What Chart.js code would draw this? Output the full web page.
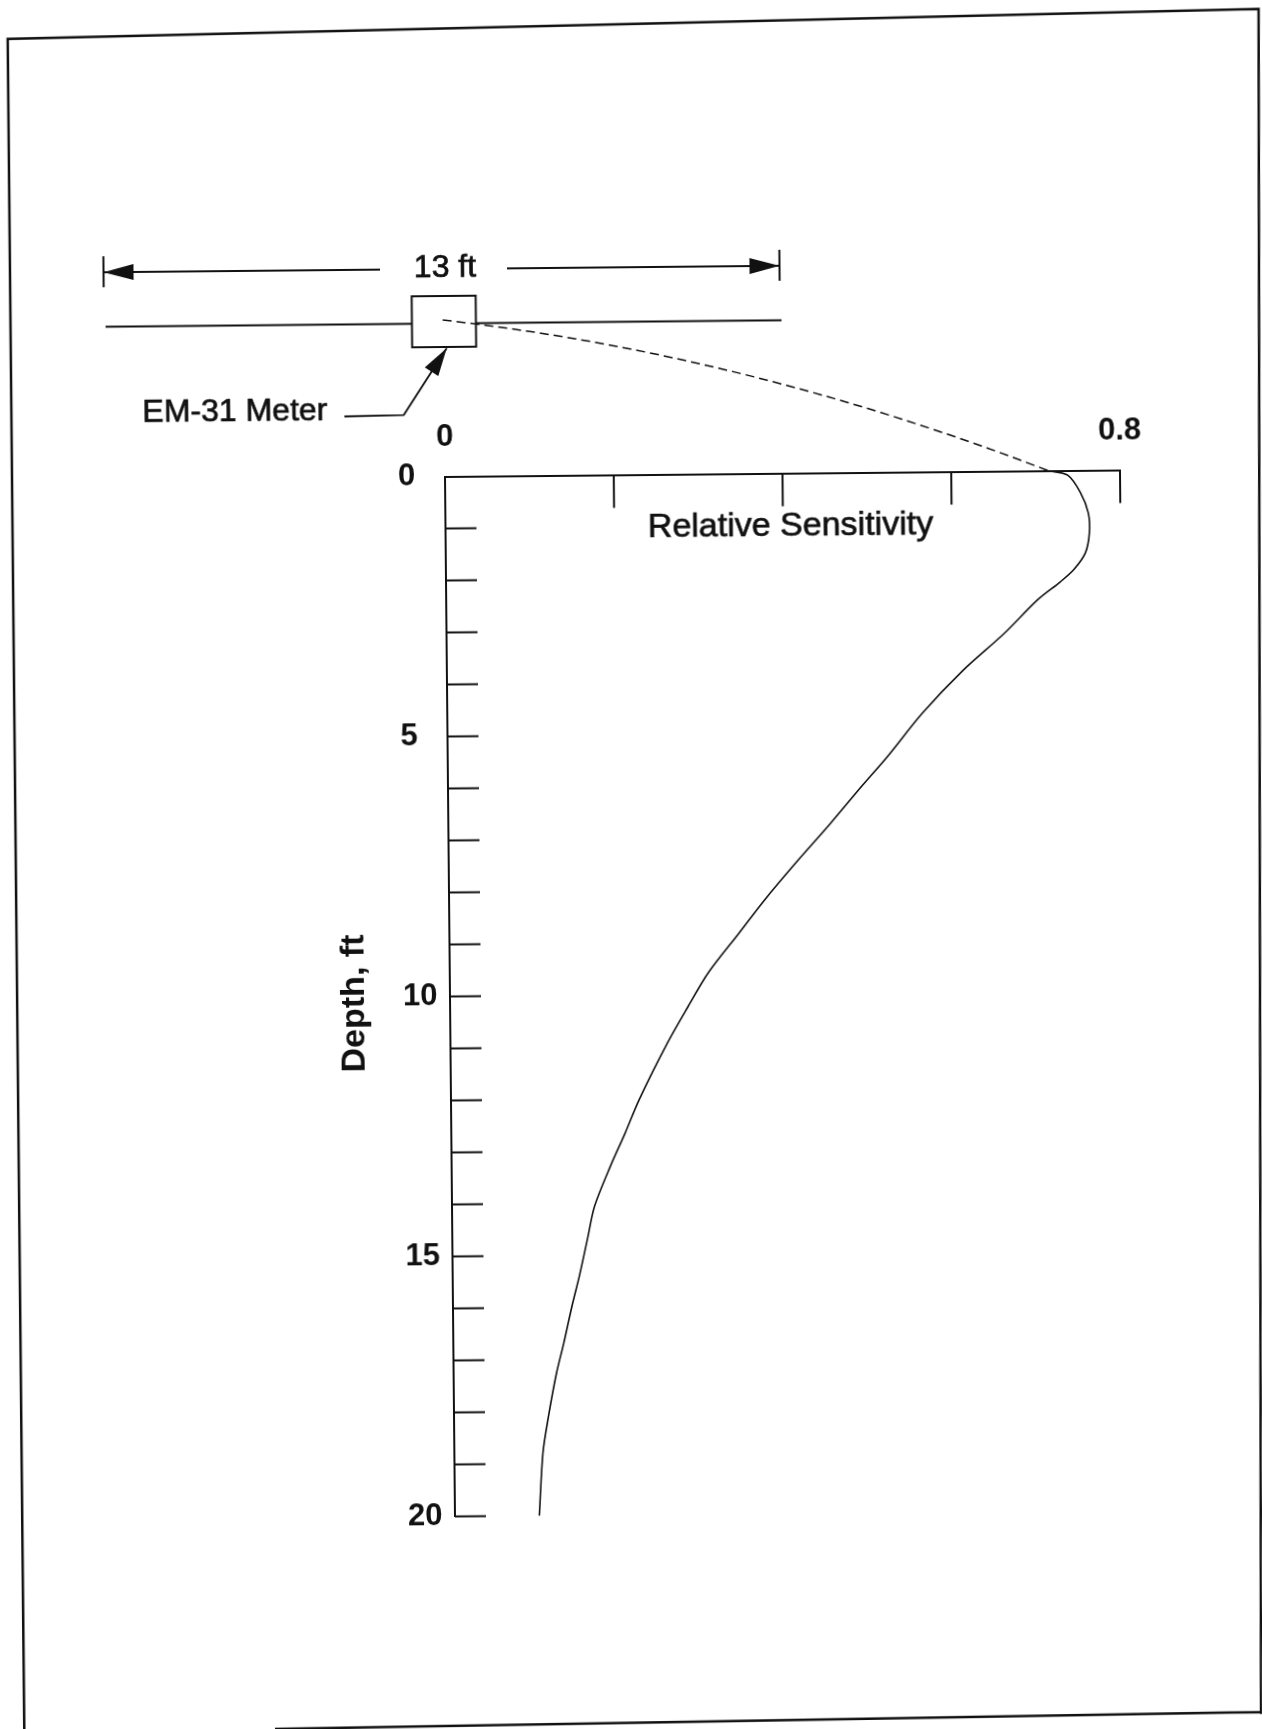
<!DOCTYPE html>
<html>
<head>
<meta charset="utf-8">
<script src="https://cdn.jsdelivr.net/npm/chart.js@4.4.1/dist/chart.umd.min.js"></script>
<style>
  html, body { margin: 0; padding: 0; background: #fff; }
  #wrap { position: relative; width: 1262px; height: 1729px; overflow: hidden; }
  /* the scanned page is slightly tilted */
  #grafica { display: block; transform: rotate(-0.55deg); transform-origin: 445px 476.5px; }
</style>
</head>
<body>
<div id="wrap"><canvas id="grafica" width="1300" height="1760"></canvas></div>
<script>
// Depth below the meter (ft)
const depthFt = [0, 0.09, 0.43, 0.82, 1.21, 1.59, 1.91, 2.14, 2.48, 3.12, 3.82, 4.64, 5.47, 6.04, 6.74, 7.5, 8.2, 8.84, 9.6, 10.24, 10.94, 12.02, 12.66, 13.3, 14.06, 14.7, 15.41, 15.98, 16.68, 17.26, 18.09, 18.79, 20];
// Relative sensitivity at each depth
const sensitivity = [0.715, 0.738, 0.753, 0.762, 0.763, 0.758, 0.744, 0.728, 0.701, 0.661, 0.612, 0.563, 0.521, 0.490, 0.453, 0.411, 0.374, 0.343, 0.306, 0.282, 0.257, 0.223, 0.206, 0.188, 0.169, 0.160, 0.150, 0.141, 0.131, 0.122, 0.112, 0.105, 0.100];
// Labelled ticks
const sensLabels = [0, 0.8];
const depthLabels = [0, 5, 10, 15, 20];

const INK = '#111';
const FONT = '"Liberation Sans", Arial, Helvetica, sans-serif';
const TILT = 0.55 * Math.PI / 180;

// text a bit heavier, like the photocopy
function inkText(ctx, txt, x, y) {
  ctx.fillText(txt, x, y);
  ctx.lineWidth = 0.7;
  ctx.strokeText(txt, x, y);
}

// Ticks, meter sketch, titles and page frame
const sketch = {
  id: 'sketch',
  afterDraw(chart) {
    const { ctx, scales: { x, y }, chartArea } = chart;
    const x0 = x.getPixelForValue(0);
    const y0 = y.getPixelForValue(0);
    const ft = y.getPixelForValue(1) - y0;
    ctx.save();
    ctx.strokeStyle = INK;
    ctx.fillStyle = INK;
    ctx.lineCap = 'butt';

    // inner tick marks
    ctx.lineWidth = 2;
    ctx.beginPath();
    x.ticks.forEach(t => {
      if (t.value <= 0) return;
      const px = x.getPixelForValue(t.value);
      ctx.moveTo(px, y0);
      ctx.lineTo(px, y0 + 33);
    });
    y.ticks.forEach(t => {
      if (t.value <= 0) return;
      const py = y.getPixelForValue(t.value);
      ctx.moveTo(x0, py);
      ctx.lineTo(x0 + 31, py);
    });
    ctx.stroke();

    // titles
    ctx.textAlign = 'center';
    ctx.textBaseline = 'middle';
    ctx.font = '34px ' + FONT;
    inkText(ctx, 'Relative Sensitivity', x0 + 345, y0 + 53);

    ctx.save();
    ctx.font = 'bold 34px ' + FONT;
    ctx.translate(350, (chartArea.top + chartArea.bottom) / 2 + 6);
    ctx.rotate(-Math.PI / 2);
    ctx.fillText('Depth, ft', 0, 0);
    ctx.restore();

    // 13 ft dimension line
    const half = 6.5 * ft;
    const yd = y0 - 207.5;
    const xl = x0 - half - 1.5, xr = x0 + half - 1.5;
    ctx.lineWidth = 2;
    ctx.beginPath();
    ctx.moveTo(xl, yd - 16); ctx.lineTo(xl, yd + 15);
    ctx.moveTo(xr, yd - 16); ctx.lineTo(xr, yd + 15);
    ctx.moveTo(xl, yd); ctx.lineTo(x0 - 63, yd);
    ctx.moveTo(x0 + 64, yd); ctx.lineTo(xr, yd);
    ctx.stroke();
    ctx.beginPath();
    ctx.moveTo(xl, yd); ctx.lineTo(xl + 30, yd - 8); ctx.lineTo(xl + 30, yd + 8); ctx.closePath();
    ctx.moveTo(xr, yd); ctx.lineTo(xr - 30, yd - 8); ctx.lineTo(xr - 30, yd + 8); ctx.closePath();
    ctx.fill();
    ctx.font = '32px ' + FONT;
    inkText(ctx, '13 ft', x0 + 2, yd - 1);

    // meter line and box
    const ym = y0 - 153;
    ctx.lineWidth = 2;
    ctx.beginPath();
    ctx.moveTo(x0 - half, ym); ctx.lineTo(x0 - 31.6, ym);
    ctx.moveTo(x0 + 32.4, ym); ctx.lineTo(x0 + half, ym);
    ctx.stroke();
    ctx.strokeRect(x0 - 31.6, y0 - 180.5, 64, 51);

    // leader with arrow to the meter
    ctx.lineWidth = 1.8;
    const tip = { x: x0 + 2.9, y: y0 - 128.2 };
    const knee = { x: x0 - 40.6, y: y0 - 61.9 };
    ctx.beginPath();
    ctx.moveTo(x0 - 100, y0 - 61);
    ctx.lineTo(knee.x, knee.y);
    ctx.lineTo(tip.x, tip.y);
    ctx.stroke();
    const dx = tip.x - knee.x, dy = tip.y - knee.y;
    const len = Math.hypot(dx, dy);
    const ux = dx / len, uy = dy / len;
    ctx.beginPath();
    ctx.moveTo(tip.x, tip.y);
    ctx.lineTo(tip.x - 28 * ux - 8 * uy, tip.y - 28 * uy + 8 * ux);
    ctx.lineTo(tip.x - 28 * ux + 8 * uy, tip.y - 28 * uy - 8 * ux);
    ctx.closePath();
    ctx.fill();
    ctx.textAlign = 'right';
    ctx.font = '32px ' + FONT;
    inkText(ctx, 'EM-31 Meter', x0 - 117, y0 - 66);

    // dashed line from the meter to the top of the curve
    ctx.lineWidth = 1.5;
    ctx.setLineDash([9, 5]);
    ctx.beginPath();
    ctx.moveTo(x0 - 0.8, y0 - 156.5);
    ctx.quadraticCurveTo(x0 + 300, y0 - 120,
      x.getPixelForValue(sensitivity[0]), y.getPixelForValue(depthFt[0]));
    ctx.stroke();
    ctx.setLineDash([]);

    // page frame, drawn in screen position (undo the tilt)
    ctx.translate(445, 476.5);
    ctx.rotate(TILT);
    ctx.translate(-445, -476.5);
    ctx.lineWidth = 2.5;
    ctx.beginPath();
    ctx.moveTo(24.3, 1729);
    ctx.lineTo(7.7, 39);
    ctx.lineTo(1258.6, 9);
    ctx.lineTo(1261, 1714);
    ctx.moveTo(275, 1729);
    ctx.lineTo(1262, 1712);
    ctx.stroke();

    ctx.restore();
  }
};

const points = depthFt.map((d, i) => ({ x: sensitivity[i], y: d }));
const tickFont = { family: FONT, size: 31, weight: 'bold' };

new Chart(document.getElementById('grafica'), {
  type: 'scatter',
  data: {
    datasets: [{
      data: points,
      showLine: true,
      borderColor: INK,
      borderWidth: 1.6,
      pointRadius: 0,
      tension: 0.3,
      fill: false,
      clip: false
    }]
  },
  options: {
    responsive: false,
    animation: false,
    devicePixelRatio: 1,
    layout: { padding: { left: 398, top: 400.5, right: 180, bottom: 243.5 } },
    plugins: { legend: { display: false }, tooltip: { enabled: false } },
    scales: {
      x: {
        type: 'linear',
        position: 'top',
        min: 0,
        max: 0.8,
        afterFit: s => { s.height = 76; },
        ticks: {
          stepSize: 0.2,
          autoSkip: false,
          maxRotation: 0,
          padding: 20,
          color: INK,
          font: tickFont,
          callback: v => {
            const hit = sensLabels.find(l => Math.abs(l - v) < 1e-6);
            return hit === undefined ? '' : String(hit);
          }
        },
        grid: { drawOnChartArea: false, drawTicks: false },
        border: { color: INK, width: 2 }
      },
      y: {
        type: 'linear',
        position: 'left',
        reverse: true,
        min: 0,
        max: 20,
        afterFit: s => { s.width = 47; },
        ticks: {
          stepSize: 1,
          autoSkip: false,
          crossAlign: 'far',
          color: INK,
          font: tickFont,
          callback: v => depthLabels.includes(v) ? String(v) : ''
        },
        grid: { drawOnChartArea: false, drawTicks: false },
        border: { color: INK, width: 2 }
      }
    }
  },
  plugins: [sketch]
});
</script>
</body>
</html>
